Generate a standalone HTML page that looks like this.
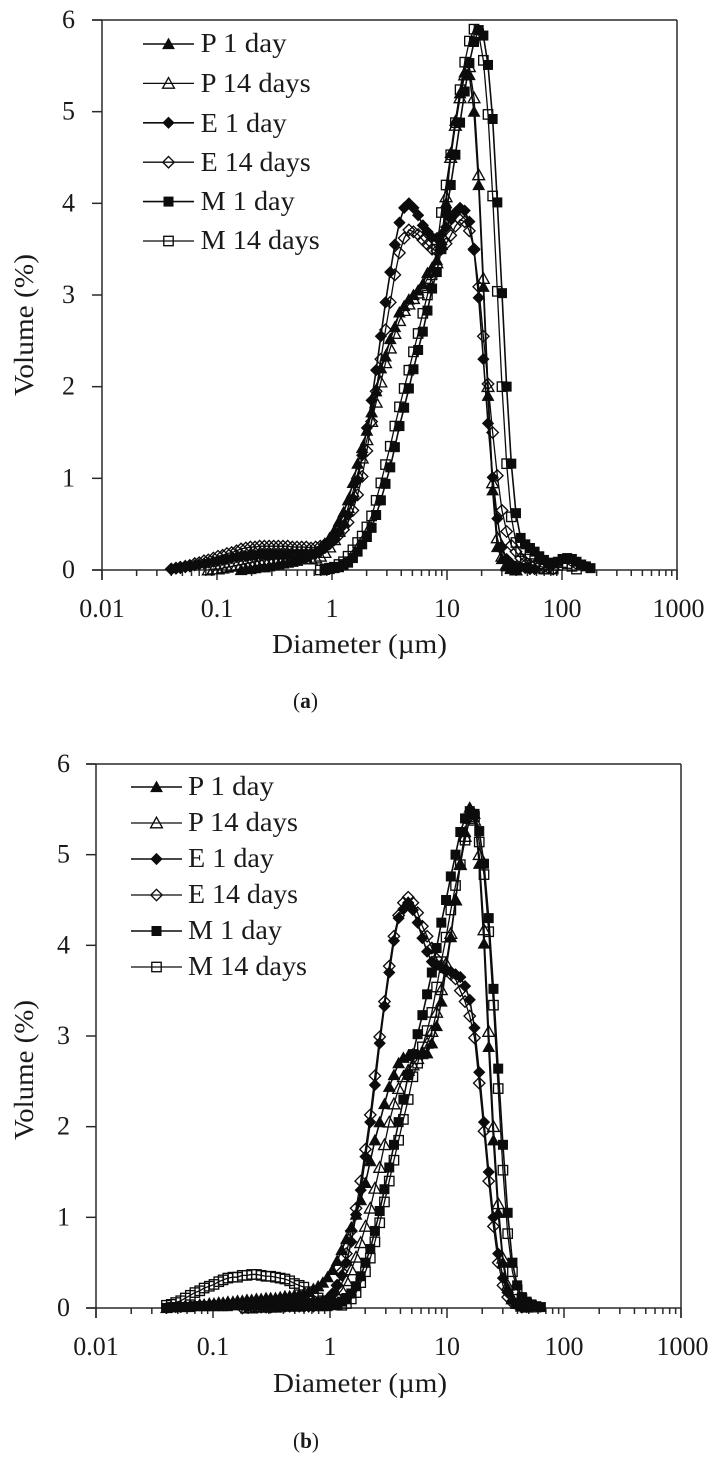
<!DOCTYPE html>
<html lang="en">
<head>
<meta charset="utf-8">
<title>Particle size distribution</title>
<style>
html,body{margin:0;padding:0;background:#fff;}
body{width:717px;height:1466px;overflow:hidden;}
svg{display:block;filter:blur(0.35px);}
text{font-family:"Liberation Serif",serif;fill:#1a1a1a;font-size:27px;}
text.tick{font-size:26px;}
</style>
</head>
<body>
<svg id="figure" xmlns="http://www.w3.org/2000/svg" width="717" height="1466" viewBox="0 0 717 1466">
  <rect width="717" height="1466" fill="#fff"/>
  <g id="chart-a">
    <g id="chart-a-plot"></g>
    <text transform="translate(33,396) rotate(-90)" textLength="142" lengthAdjust="spacingAndGlyphs">Volume (%)</text>
    <text x="272" y="653" textLength="175" lengthAdjust="spacingAndGlyphs">Diameter (µm)</text>
    <text x="293" y="708" style="font-size:22px" textLength="25" lengthAdjust="spacingAndGlyphs">(<tspan font-weight="bold">a</tspan>)</text>
    <g id="chart-a-legend">
      <text x="200.7" y="52" textLength="86" lengthAdjust="spacingAndGlyphs">P 1 day</text>
      <text x="200.7" y="92" textLength="110" lengthAdjust="spacingAndGlyphs">P 14 days</text>
      <text x="200.7" y="132" textLength="86" lengthAdjust="spacingAndGlyphs">E 1 day</text>
      <text x="200.7" y="171" textLength="110" lengthAdjust="spacingAndGlyphs">E 14 days</text>
      <text x="200.7" y="210" textLength="94" lengthAdjust="spacingAndGlyphs">M 1 day</text>
      <text x="200.7" y="249" textLength="119" lengthAdjust="spacingAndGlyphs">M 14 days</text>
    </g>
  </g>
  <g id="chart-b">
    <g id="chart-b-plot"></g>
    <text transform="translate(33,1140) rotate(-90)" textLength="140" lengthAdjust="spacingAndGlyphs">Volume (%)</text>
    <text x="273" y="1392" textLength="174" lengthAdjust="spacingAndGlyphs">Diameter (µm)</text>
    <text x="293" y="1448" style="font-size:22px" textLength="26" lengthAdjust="spacingAndGlyphs">(<tspan font-weight="bold">b</tspan>)</text>
    <g id="chart-b-legend">
      <text x="188" y="795" textLength="86" lengthAdjust="spacingAndGlyphs">P 1 day</text>
      <text x="188" y="831" textLength="110" lengthAdjust="spacingAndGlyphs">P 14 days</text>
      <text x="188" y="867" textLength="86" lengthAdjust="spacingAndGlyphs">E 1 day</text>
      <text x="188" y="903" textLength="110" lengthAdjust="spacingAndGlyphs">E 14 days</text>
      <text x="188" y="939" textLength="94" lengthAdjust="spacingAndGlyphs">M 1 day</text>
      <text x="188" y="975" textLength="119" lengthAdjust="spacingAndGlyphs">M 14 days</text>
    </g>
  </g>
</svg>
<script>
var xTickValues = [0.01, 0.1, 1, 10, 100, 1000];
var xTickLabels = ['0.01', '0.1', '1', '10', '100', '1000'];
var yTickValues = [0, 1, 2, 3, 4, 5, 6];
var yTickLabels = ['0', '1', '2', '3', '4', '5', '6'];

var diameters = [
0.040,0.044,0.048,0.053,0.058,0.064,0.070,0.077,0.084,0.093,
0.102,0.112,0.122,0.134,0.148,0.162,0.178,0.195,0.214,0.235,
0.258,0.284,0.311,0.342,0.375,0.412,0.452,0.496,0.545,0.598,
0.657,0.721,0.791,0.868,0.953,1.05,1.15,1.26,1.38,1.52,
1.67,1.83,2.01,2.21,2.42,2.66,2.92,3.21,3.52,3.86,
4.24,4.66,5.11,5.61,6.16,6.76,7.42,8.15,8.94,9.82,
10.78,11.83,12.99,14.26,15.65,17.18,18.86,20.71,22.73,24.95,
27.39,30.07,33.01,36.24,39.78,43.67,47.94,52.63,57.77,63.42,
69.62,76.43,83.90,92.09,101.1,111.0,121.8,133.7,146.8,161.2,176.9];

var aP1 = [
null,null,null,null,null,null,null,null,null,null,
null,null,null,null,null,0,.01,.01,.02,.03,
.03,.04,.05,.06,.07,.08,.09,.1,.12,.14,
.17,.2,.24,.29,.35,.43,.53,.63,.76,.95,
1.16,1.33,1.52,1.72,1.95,2.2,2.33,2.52,2.65,2.81,
2.88,2.95,3,3.05,3.12,3.24,3.3,3.38,3.6,4,
4.55,4.9,5.2,5.43,5.4,5,4.2,3.09,1.9,.87,
.25,.12,.04,.01,0];
var aP14 = [
null,null,null,null,null,null,null,null,0,.01,
.01,.02,.03,.04,.05,.06,.07,.08,.09,.1,
.11,.11,.12,.12,.12,.12,.12,.12,.12,.12,
.12,.13,.15,.19,.25,.33,.42,.53,.68,.85,
1.05,1.22,1.42,1.62,1.83,2.05,2.26,2.42,2.58,2.72,
2.83,2.9,2.96,3.02,3.08,3.18,3.27,3.35,3.55,4.07,
4.5,4.85,5.15,5.4,5.49,5.15,4.31,3.18,2,.95,
.35,.15,.06,.02,0];
var aE1 = [
.01,.02,.02,.03,.04,.05,.06,.07,.08,.09,
.1,.11,.12,.13,.14,.15,.15,.16,.16,.17,
.17,.17,.17,.17,.17,.17,.17,.17,.17,.18,
.18,.19,.21,.24,.28,.34,.41,.49,.6,.78,
.98,1.25,1.55,1.85,2.18,2.55,2.92,3.25,3.55,3.79,
3.95,4,3.95,3.87,3.76,3.69,3.63,3.62,3.66,3.74,
3.83,3.9,3.95,3.92,3.8,3.49,2.97,2.3,1.6,1.01,
.56,.25,.12,.07,.04,.03,.02,.01,.01];
var aE14 = [
.01,.02,.03,.04,.05,.07,.08,.1,.11,.13,
.15,.16,.18,.19,.21,.23,.24,.25,.25,.26,
.26,.26,.26,.26,.26,.26,.25,.25,.25,.25,
.24,.25,.26,.28,.3,.33,.38,.44,.52,.65,
.82,1.02,1.3,1.62,1.95,2.3,2.62,2.92,3.22,3.46,
3.62,3.71,3.69,3.66,3.6,3.55,3.5,3.48,3.5,3.56,
3.65,3.75,3.82,3.8,3.7,3.5,3.09,2.55,2.03,1.5,
1.03,.65,.42,.27,.2,.13,.09,.06,.05,.04,
.03,.02,.01];
var aM1 = [
null,null,null,null,null,null,null,null,null,null,
null,null,null,null,null,null,null,null,null,null,
null,null,null,null,null,null,null,null,null,null,
null,null,null,0,.01,.02,.03,.05,.08,.13,
.2,.28,.36,.46,.6,.76,.94,1.12,1.34,1.57,
1.77,1.98,2.19,2.4,2.6,2.83,3.07,3.25,3.5,3.9,
4.2,4.53,4.88,5.22,5.53,5.76,5.89,5.83,5.51,4.92,
4.01,3.02,2,1.16,.62,.35,.28,.24,.2,.15,
.11,.08,.07,.09,.12,.13,.12,.09,.06,.04,.02];
var aM14 = [
null,null,null,null,null,null,null,null,null,null,
null,null,null,null,null,null,null,null,null,null,
null,null,null,null,null,null,null,null,null,null,
null,null,0,.01,.02,.03,.06,.09,.15,.22,
.3,.37,.47,.59,.76,.95,1.15,1.35,1.57,1.78,
1.98,2.18,2.38,2.58,2.8,3,3.22,3.5,3.9,4.2,
4.53,4.88,5.24,5.54,5.77,5.9,5.85,5.56,4.97,4.08,
3.04,2,1.16,.58,.3,.2,.12,.07,.04,.02,
.01,.01,.01,.05,.08,.07,.04,.01];

var bP1 = [
0,.01,.01,.02,.02,.03,.03,.04,.04,.05,
.05,.06,.06,.07,.07,.08,.08,.09,.09,.1,
.1,.11,.11,.11,.12,.13,.13,.14,.15,.16,
.18,.21,.24,.28,.34,.42,.52,.64,.76,.89,
1.03,1.19,1.38,1.62,1.85,2.05,2.25,2.44,2.57,2.7,
2.76,2.78,2.8,2.8,2.8,2.81,2.92,3.11,3.38,3.75,
4.09,4.5,4.9,5.25,5.52,5.45,4.9,4.02,2.88,1.85,
1.05,.5,.22,.1,.05,.02,.01];
var bP14 = [
null,null,null,null,null,null,null,null,null,null,
null,null,null,null,null,null,null,0,0,.01,
.01,.01,.01,.01,.02,.02,.02,.02,.02,.03,
.03,.03,.04,.05,.07,.1,.14,.2,.3,.42,
.56,.72,.9,1.1,1.32,1.55,1.8,2.05,2.25,2.42,
2.55,2.62,2.68,2.75,2.82,2.92,3.05,3.26,3.51,3.8,
4.13,4.5,4.89,5.2,5.4,5.38,5,4.17,3.05,2,
1.15,.55,.25,.1,.05,.02,.01];
var bE1 = [
0,.01,.01,.01,.02,.02,.02,.03,.03,.03,
.04,.04,.04,.05,.05,.05,.05,.06,.06,.06,
.06,.06,.06,.06,.06,.06,.06,.06,.06,.06,
.06,.07,.07,.08,.1,.16,.25,.36,.5,.73,
1.03,1.3,1.67,2.05,2.46,2.92,3.33,3.7,4.05,4.3,
4.4,4.47,4.39,4.25,4.08,3.93,3.82,3.78,3.76,3.73,
3.71,3.68,3.65,3.55,3.4,3.09,2.6,2.05,1.5,1,
.6,.33,.17,.08,.04,.02,.01];
var bE14 = [
null,null,null,null,null,null,null,null,null,null,
null,null,null,null,null,null,0,.01,.01,.01,
.01,.01,.01,.02,.02,.02,.02,.02,.02,.02,
.02,.02,.03,.05,.08,.15,.25,.4,.6,.85,
1.1,1.4,1.75,2.13,2.56,2.99,3.38,3.77,4.1,4.33,
4.47,4.53,4.47,4.36,4.21,4.1,3.97,3.85,3.78,3.72,
3.68,3.63,3.5,3.38,3.22,2.98,2.48,1.95,1.4,.9,
.5,.25,.12,.06,.03,.01];
var bM1 = [
0,.01,.01,.01,.01,.01,.02,.02,.02,.02,
.02,.02,.02,.02,.03,.03,.03,.03,.03,.03,
.03,.03,.03,.03,.03,.03,.03,.03,.03,.03,
.03,.03,.02,.02,.02,.03,.05,.07,.11,.16,
.24,.35,.5,.65,.85,1.07,1.31,1.55,1.8,2.05,
2.3,2.57,2.8,3.02,3.23,3.46,3.7,3.97,4.25,4.5,
4.76,5,5.25,5.4,5.48,5.45,5.26,4.9,4.3,3.52,
2.64,1.8,1.05,.5,.25,.12,.07,.04,.02,.01];
var bM14 = [
.03,.04,.06,.08,.11,.14,.17,.19,.22,.24,
.26,.29,.31,.33,.34,.34,.36,.36,.37,.37,
.36,.35,.35,.34,.33,.32,.3,.27,.25,.23,
.18,.14,.11,.08,.06,.05,.04,.03,.05,.1,
.17,.28,.4,.55,.73,.94,1.17,1.4,1.63,1.85,
2.08,2.3,2.55,2.7,2.88,3.06,3.26,3.54,3.82,4.09,
4.39,4.66,4.89,5.16,5.4,5.42,5.14,4.78,4.15,3.34,
2.42,1.52,.82,.4,.2,.1,.05,.03,.01];

var NS = 'http://www.w3.org/2000/svg';
var AXIS_COLOR = '#2a2a2a';
var INK = '#0c0c0c';

function node(parent, tag, attrs) {
  var el = document.createElementNS(NS, tag);
  for (var k in attrs) { el.setAttribute(k, attrs[k]); }
  parent.appendChild(el);
  return el;
}

function markerShape(parent, kind, filled, x, y) {
  var fill = filled ? INK : 'none';
  var sw = filled ? 0.6 : 1.35;
  var el;
  if (kind === 'triangle') {
    el = node(parent, 'polygon', {points: x + ',' + (y - 5.8) + ' ' + (x + 5.9) + ',' + (y + 4.8) + ' ' + (x - 5.9) + ',' + (y + 4.8), fill: fill, stroke: INK, 'stroke-width': sw});
  } else if (kind === 'diamond') {
    el = node(parent, 'polygon', {points: x + ',' + (y - 5.7) + ' ' + (x + 5.7) + ',' + y + ' ' + x + ',' + (y + 5.7) + ' ' + (x - 5.7) + ',' + y, fill: fill, stroke: INK, 'stroke-width': sw});
  } else {
    el = node(parent, 'rect', {x: x - 4.7, y: y - 4.7, width: 9.4, height: 9.4, fill: fill, stroke: INK, 'stroke-width': sw});
  }
  return el;
}

function drawChart(rootId, legendId, frame, seriesList, legendFrame) {
  var root = document.getElementById(rootId);
  var decadeWidth = (frame.right - frame.left) / 5;
  var xScale = function (d) { return frame.left + decadeWidth * (Math.log10(d) + 2); };
  var yScale = function (v) { return frame.bottom - (frame.bottom - frame.top) * v / 6; };

  var axisGroup = node(root, 'g', {stroke: AXIS_COLOR, 'stroke-width': 1.5, fill: 'none'});
  
  

  var xAxis = node(axisGroup, 'line', {x1: frame.left - 10, x2: frame.right, y1: frame.bottom, y2: frame.bottom});
  
  
  var yAxis = node(axisGroup, 'line', {x1: frame.left, x2: frame.left, y1: frame.top, y2: frame.bottom + 10});
  
  
  var topEdge = node(axisGroup, 'line', {x1: frame.left - 10, x2: frame.right, y1: frame.top, y2: frame.top});
  
  
  var rightEdge = node(axisGroup, 'line', {x1: frame.right, x2: frame.right, y1: frame.top, y2: frame.bottom + 10});
  
  

  yTickValues.forEach(function (v, i) {
    var t = node(axisGroup, 'line', {x1: frame.left - 10, x2: frame.left, y1: yScale(v), y2: yScale(v)});
    
    
    var label = node(root, 'text', {x: frame.yLabelX, y: yScale(v) + 8, 'text-anchor': 'middle', 'class': 'tick'});
    label.textContent = yTickLabels[i];
    
    
  });

  xTickValues.forEach(function (d, i) {
    var major = node(axisGroup, 'line', {x1: xScale(d), x2: xScale(d), y1: frame.bottom, y2: frame.bottom + 10});
    
    
    var label = node(root, 'text', {x: xScale(d) + (i === 5 ? 1.5 : 0), y: frame.xLabelY, 'text-anchor': 'middle', 'class': 'tick'});
    label.textContent = xTickLabels[i];
    
    
    if (i < xTickValues.length - 1) {
      for (var m = 2; m < 10; m++) {
        var minor = node(axisGroup, 'line', {x1: xScale(d * m), x2: xScale(d * m), y1: frame.bottom, y2: frame.bottom + 6});
        
        
      }
    }
  });

  var drawOrder = [1, 3, 5, 0, 2, 4];
  drawOrder.forEach(function (idx) {
    var s = seriesList[idx];
    var g = node(root, 'g', {});
    
    
    var pts = [];
    s.values.forEach(function (v, i) {
      if (v !== null) { pts.push([xScale(diameters[i]), yScale(v)]); }
    });
    var line = node(g, 'polyline', {points: pts.map(function (p) { return p[0].toFixed(2) + ',' + p[1].toFixed(2); }).join(' '), fill: 'none', stroke: INK, 'stroke-width': s.filled ? 1.6 : 1.3});
    
    
    pts.forEach(function (p) {
      var mark = markerShape(g, s.kind, s.filled, p[0], p[1]);
      
      
    });
  });

  var legend = document.getElementById(legendId);
  seriesList.forEach(function (s, i) {
    var y = legendFrame.y0 + legendFrame.step * i;
    var key = node(legend, 'g', {});
    
    
    node(key, 'line', {x1: legendFrame.x1, x2: legendFrame.x2, y1: y, y2: y, stroke: INK, 'stroke-width': s.filled ? 1.6 : 1.3});
    markerShape(key, s.kind, s.filled, (legendFrame.x1 + legendFrame.x2) / 2, y);
  });
}

var kinds = ['triangle', 'triangle', 'diamond', 'diamond', 'square', 'square'];
var filledFlags = [true, false, true, false, true, false];
var seriesNames = ['p-1-day', 'p-14-days', 'e-1-day', 'e-14-days', 'm-1-day', 'm-14-days'];

function buildSeries(valueArrays) {
  return valueArrays.map(function (vals, i) {
    return {name: seriesNames[i], kind: kinds[i], filled: filledFlags[i], values: vals};
  });
}

drawChart('chart-a-plot', 'chart-a-legend',
  {left: 102, right: 677, top: 20, bottom: 570, yLabelX: 68.5, xLabelY: 617},
  buildSeries([aP1, aP14, aE1, aE14, aM1, aM14]),
  {x1: 143, x2: 194, y0: 44, step: 39.4});

drawChart('chart-b-plot', 'chart-b-legend',
  {left: 96, right: 681, top: 764, bottom: 1308, yLabelX: 63.5, xLabelY: 1355},
  buildSeries([bP1, bP14, bE1, bE14, bM1, bM14]),
  {x1: 131, x2: 182, y0: 787, step: 36});
</script>
</body>
</html>
